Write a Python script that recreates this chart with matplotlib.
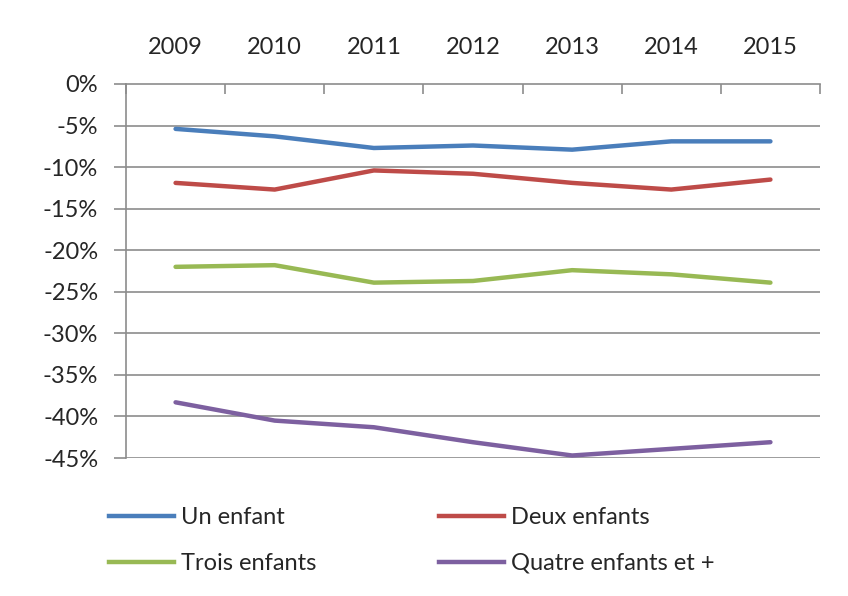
import matplotlib.pyplot as plt
from matplotlib.lines import Line2D
from matplotlib.ticker import FixedLocator

plt.rcParams['font.family'] = ['Lato', 'DejaVu Sans']

years = ['2009', '2010', '2011', '2012', '2013', '2014', '2015']
un_enfant = [-5.4, -6.3, -7.7, -7.4, -7.9, -6.9, -6.9]
deux_enfants = [-11.9, -12.7, -10.4, -10.8, -11.9, -12.7, -11.5]
trois_enfants = [-22.0, -21.8, -23.9, -23.7, -22.4, -22.9, -23.9]
quatre_enfants = [-38.3, -40.5, -41.3, -43.1, -44.7, -43.9, -43.1]

labels = ['Un enfant', 'Deux enfants', 'Trois enfants', 'Quatre enfants et +']
colors = ['#4A7EBB', '#BE4B48', '#98B954', '#7D60A0']
series = [un_enfant, deux_enfants, trois_enfants, quatre_enfants]
y_ticks = [0, -5, -10, -15, -20, -25, -30, -35, -40, -45]

fig = plt.figure(figsize=(8.48, 5.96), dpi=100)
ax = fig.add_axes([126 / 848, 1 - 458 / 596, 694 / 848, 374 / 596])

x = list(range(len(years)))
for vals, c in zip(series, colors):
    ax.plot(x, vals, color=c, lw=3.2, solid_capstyle='round', zorder=3)

ax.set_xlim(-0.5, len(years) - 0.5)
ax.set_ylim(-45, 0)

# gridlines
for v in y_ticks[1:]:
    ax.axhline(v, color='#8c8c8c', lw=1.2, zorder=1)

ax.set_yticks(y_ticks)
ax.set_yticklabels([f'{v}%' for v in y_ticks], fontsize=17, color='#262626')
ax.tick_params(axis='y', direction='out', length=9, width=1.2, color='#8c8c8c', pad=11)

ax.xaxis.tick_top()
ax.set_xticks(x)
ax.set_xticklabels(years, fontsize=17, color='#262626')
ax.tick_params(axis='x', which='major', length=0, pad=19)
ax.xaxis.set_minor_locator(FixedLocator([i - 0.5 for i in range(len(years) + 1)]))
ax.tick_params(axis='x', which='minor', direction='in', length=7, width=1.2,
               color='#8c8c8c', top=True)

for s in ['bottom', 'right']:
    ax.spines[s].set_visible(False)
for s in ['top', 'left']:
    ax.spines[s].set_color('#8c8c8c')
    ax.spines[s].set_linewidth(1.2)

handles = [Line2D([0], [0], color=c, lw=3.2) for c in colors]
leg_kw = dict(loc='upper left', frameon=False, fontsize=17, handlelength=2.75,
              handletextpad=0.3, labelspacing=1.05, borderaxespad=0, borderpad=0,
              labelcolor='#262626')
leg1 = fig.legend([handles[0], handles[2]], [labels[0], labels[2]],
                  bbox_to_anchor=(109 / 848, 1 - 507 / 596), **leg_kw)
leg2 = fig.legend([handles[1], handles[3]], [labels[1], labels[3]],
                  bbox_to_anchor=(439 / 848, 1 - 507 / 596), **leg_kw)

fig.savefig('out.png', dpi=100)
